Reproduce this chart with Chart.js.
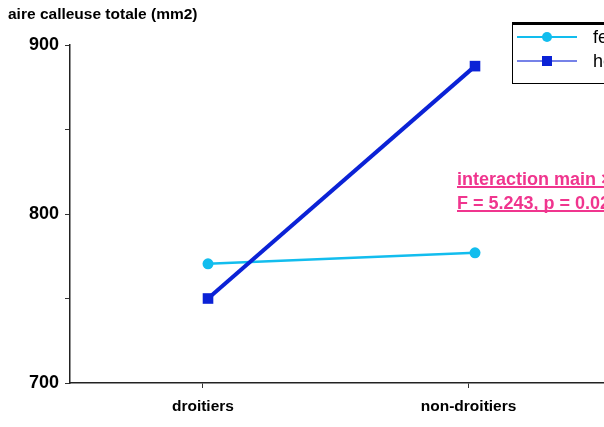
<!DOCTYPE html>
<html>
<head>
<meta charset="utf-8">
<script src="https://cdn.jsdelivr.net/npm/chart.js@4.4.1/dist/chart.umd.min.js"></script>
<style>
  html, body { margin: 0; padding: 0; background: #fff; overflow: hidden; }
  #wrap { width: 604px; height: 427px; overflow: hidden; position: relative; }
  canvas { display: block; }
</style>
</head>
<body>
<div id="wrap"><canvas id="c" width="760" height="427"></canvas></div>
<script>
const categories = ["droitiers", "non-droitiers"];
const femmes = [770.5, 777];
const hommes = [750, 887.5];
const seriesNames = ["femmes", "hommes"];
const yTitle = "aire calleuse totale (mm2)";
const noteLines = ["interaction main \u00d7 sexe", "F = 5.243, p = 0.024"];

const FEM_COLOR = "#12bdee";
const HOM_COLOR = "#0b22d6";
const FONT = "'Liberation Sans', Arial, Helvetica, sans-serif";

const decor = {
  id: "decor",
  afterDraw(chart) {
    const ctx = chart.ctx;
    ctx.save();
    // axis title
    ctx.fillStyle = "#000";
    ctx.font = "bold 15.5px " + FONT;
    ctx.textBaseline = "middle";
    ctx.textAlign = "left";
    ctx.fillText(yTitle, 8, 15);

    // legend box
    ctx.strokeStyle = "#000";
    ctx.lineWidth = 1;
    ctx.strokeRect(512.5, 24.5, 240, 59);
    ctx.lineWidth = 3;
    ctx.beginPath(); ctx.moveTo(512, 23.5); ctx.lineTo(752, 23.5); ctx.stroke();
    const rows = [
      { y: 37, color: FEM_COLOR, name: seriesNames[0], shape: "circle" },
      { y: 61, color: HOM_COLOR, name: seriesNames[1], shape: "rect" }
    ];
    rows.forEach(r => {
      ctx.strokeStyle = r.color;
      ctx.lineWidth = r.shape === "rect" ? 1.5 : 2;
      ctx.globalAlpha = r.shape === "rect" ? 0.75 : 1;
      ctx.beginPath(); ctx.moveTo(517, r.y); ctx.lineTo(577, r.y); ctx.stroke();
      ctx.globalAlpha = 1;
      ctx.fillStyle = r.color;
      if (r.shape === "circle") {
        ctx.beginPath(); ctx.arc(547, r.y, 5, 0, Math.PI * 2); ctx.fill();
      } else {
        ctx.fillRect(542, r.y - 5, 10, 10);
      }
      ctx.fillStyle = "#000";
      ctx.font = "18px " + FONT;
      ctx.textBaseline = "middle";
      ctx.fillText(r.name, 593, r.y + 1);
    });

    // annotation
    ctx.fillStyle = "#f0358e";
    ctx.strokeStyle = "#f0358e";
    ctx.font = "bold 18px " + FONT;
    ctx.textBaseline = "alphabetic";
    const ys = [186, 210];
    noteLines.forEach((t, i) => {
      ctx.fillText(t, 457, ys[i] - 1);
      const w = ctx.measureText(t).width;
      ctx.lineWidth = 2;
      ctx.beginPath(); ctx.moveTo(457, ys[i] + 1); ctx.lineTo(457 + w, ys[i] + 1); ctx.stroke();
    });
    ctx.restore();
  }
};

const ctx = document.getElementById("c").getContext("2d");
new Chart(ctx, {
  type: "line",
  data: {
    datasets: [
      {
        label: seriesNames[0],
        data: femmes.map((v, i) => ({ x: i, y: v })),
        borderColor: FEM_COLOR,
        backgroundColor: FEM_COLOR,
        borderWidth: 2.5,
        pointStyle: "circle",
        pointRadius: 5.5,
        pointBorderWidth: 0,
        order: 1
      },
      {
        label: seriesNames[1],
        data: hommes.map((v, i) => ({ x: i, y: v })),
        borderColor: HOM_COLOR,
        backgroundColor: HOM_COLOR,
        borderWidth: 4,
        pointStyle: "rect",
        pointRadius: 7.5,
        pointBorderWidth: 0,
        order: 0
      }
    ]
  },
  options: {
    responsive: false,
    animation: false,
    layout: { padding: { top: 45, left: 0, right: 20, bottom: 0 } },
    plugins: { legend: { display: false }, tooltip: { enabled: false }, title: { display: false } },
    scales: {
      x: {
        type: "linear",
        min: -0.5169,
        max: 1.9925,
        afterBuildTicks(axis) {
          axis.ticks = [{ value: -0.019 }, { value: 0.976 }];
        },
        afterFit(axis) { axis.height = 44; },
        ticks: {
          autoSkip: false,
          maxRotation: 0,
          padding: 9,
          color: "#000",
          font: { family: FONT, size: 15.5, weight: "bold" },
          callback: (v, i) => categories[i]
        },
        grid: { display: true, drawOnChartArea: false, tickLength: 5, color: "#333", lineWidth: 1 },
        border: { display: true, color: "#222", width: 1.5 }
      },
      y: {
        min: 700,
        max: 900,
        afterFit(axis) { axis.width = 70; },
        ticks: {
          stepSize: 50,
          padding: 6,
          color: "#000",
          font: { family: FONT, size: 18, weight: "bold" },
          callback: v => (v % 100 === 0 ? String(v) : "")
        },
        grid: { display: true, drawOnChartArea: false, tickLength: 5, color: "#333", lineWidth: 1 },
        border: { display: true, color: "#222", width: 1.5 }
      }
    }
  },
  plugins: [decor]
});
</script>
</body>
</html>
